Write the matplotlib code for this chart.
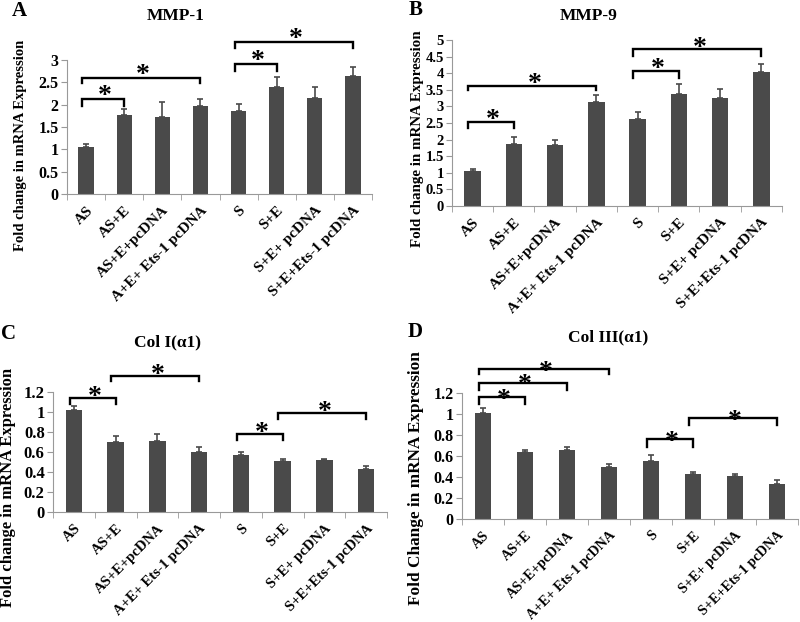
import numpy as np
import matplotlib
matplotlib.use("Agg")
import matplotlib.pyplot as plt

plt.rcParams['font.family'] = ['Liberation Serif', 'DejaVu Serif']
plt.rcParams['font.weight'] = 'bold'

groups = ["AS", "AS+E", "AS+E+pcDNA", "A+E+ Ets-1 pcDNA",
          "S", "S+E", "S+E+ pcDNA", "S+E+Ets-1 pcDNA"]

# panel A - MMP-1
mmp1 = [1.06, 1.76, 1.72, 1.98, 1.86, 2.39, 2.14, 2.65]
mmp1_err = [0.07, 0.14, 0.33, 0.15, 0.16, 0.24, 0.25, 0.20]
# panel B - MMP-9
mmp9 = [1.05, 1.86, 1.83, 3.12, 2.62, 3.36, 3.26, 4.03]
mmp9_err = [0.06, 0.23, 0.16, 0.22, 0.22, 0.32, 0.27, 0.25]
# panel C - Col I(a1)
col1 = [1.02, 0.70, 0.71, 0.60, 0.57, 0.515, 0.52, 0.435]
col1_err = [0.04, 0.06, 0.07, 0.05, 0.03, 0.02, 0.01, 0.03]
# panel D - Col III(a1)
col3 = [1.01, 0.64, 0.66, 0.50, 0.55, 0.43, 0.41, 0.33]
col3_err = [0.05, 0.02, 0.03, 0.02, 0.06, 0.015, 0.02, 0.04]

# significance brackets: (from, to, line height, drop)
brk_a = [(0, 1, 2.13, 0.17), (0, 3, 2.59, 0.11), (4, 5, 2.91, 0.15), (4, 7, 3.41, 0.15)]
brk_b = [(0, 1, 2.54, 0.18), (0, 3, 3.62, 0.13), (4, 5, 4.08, 0.23), (4, 7, 4.72, 0.20)]
brk_c = [(0, 1, 1.14, 0.06), (1, 3, 1.36, 0.05), (4, 5, 0.78, 0.06), (5, 7, 0.99, 0.06)]
brk_d = [(0, 1, 1.16, 0.06), (0, 2, 1.30, 0.07), (0, 3, 1.43, 0.05),
         (4, 5, 0.76, 0.07), (5, 7, 0.96, 0.06)]

W, H = 800, 622
fig = plt.figure(figsize=(8, 6.22), dpi=100)

def px(x, y):
    return x / W, 1 - y / H

def panel(rect, vals, errs, ymax, ystep, brks, tick_fs, xlab_fs, star_off,
          title, title_xy, letter, letter_xy, ylab, ylab_xy, ylab_fs):
    ax = fig.add_axes(rect)
    x = np.arange(len(vals))
    ax.bar(x, vals, width=0.4, color='#4a4a4a', zorder=2)
    ax.errorbar(x, vals, yerr=[np.zeros(len(errs)), errs], fmt='none',
                ecolor='#4a4a4a', elinewidth=1.2, capsize=2.5, capthick=1.2, zorder=3)
    ax.set_xlim(-0.5, 7.5)
    ax.set_ylim(0, ymax)
    yt = np.arange(0, ymax + ystep / 2, ystep)
    ax.set_yticks(yt)
    ax.set_yticklabels(['%g' % v for v in yt], fontsize=tick_fs, fontweight='bold')
    ax.set_xticks(x)
    ax.set_xticklabels(groups, rotation=45, ha='right', rotation_mode='anchor',
                       fontsize=xlab_fs, fontweight='bold')
    ax.set_xticks(np.arange(-0.5, 8, 1), minor=True)
    ax.tick_params(axis='x', which='major', length=0, pad=7)
    ax.tick_params(axis='x', which='minor', length=4, color='#999999')
    ax.tick_params(axis='y', length=4, color='#999999', pad=2)
    for s in ['top', 'right']:
        ax.spines[s].set_visible(False)
    for s in ['left', 'bottom']:
        ax.spines[s].set_color('#999999')
    for a, b, h, d in brks:
        ax.plot([a - 0.1, a - 0.1, b, b], [h - d, h, h, h - d], color='black',
                lw=1.7, clip_on=False, zorder=4, solid_joinstyle='miter')
        ax.annotate('*', xy=((a + b) / 2, h), xytext=(0, star_off),
                    textcoords='offset points', ha='center', va='baseline',
                    fontsize=20, fontweight='bold', annotation_clip=False)
    fig.text(*px(*title_xy), title, ha='center', va='center',
             fontsize=12.5, fontweight='bold')
    fig.text(*px(*letter_xy), letter, ha='center', va='center',
             fontsize=15, fontweight='bold')
    fig.text(*px(*ylab_xy), ylab, rotation=90, ha='center', va='center',
             fontsize=ylab_fs, fontweight='bold')
    return ax

panel([67 / W, 1 - 194 / H, 305 / W, 134 / H], mmp1, mmp1_err, 3, 0.5, brk_a, 11.5, 11, -3,
      'MMP-1', (176, 16), 'A', (19, 11), 'Fold change in mRNA Expression', (21, 145), 10.5)
panel([452 / W, 1 - 206 / H, 330 / W, 166 / H], mmp9, mmp9_err, 5, 0.5, brk_b, 10.5, 11, -4,
      'MMP-9', (589, 16), 'B', (416, 10), 'Fold change in mRNA Expression', (418, 139), 10.8)
panel([53 / W, 1 - 512 / H, 334 / W, 120 / H], col1, col1_err, 1.2, 0.2, brk_c, 12, 10.5, -4,
      'Col I(α1)', (168, 342), 'C', (9, 334), 'Fold change in mRNA Expression', (8, 487), 12)
panel([462 / W, 1 - 519 / H, 336 / W, 126 / H], col3, col3_err, 1.2, 0.2, brk_d, 11.5, 10.2, -7,
      'Col III(α1)', (608, 337), 'D', (415, 332), 'Fold Change in mRNA Expression', (416, 478), 12.4)

fig.savefig('out.png', dpi=100)
